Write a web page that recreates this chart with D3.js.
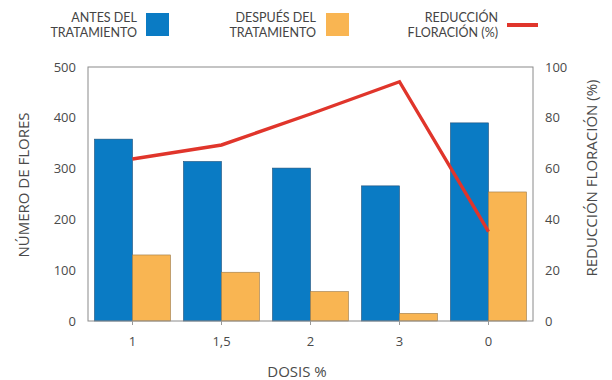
<!DOCTYPE html>
<html>
<head>
<meta charset="utf-8">
<script src="https://cdn.jsdelivr.net/npm/d3@7"></script>
<style>
  body { margin: 0; background: #fff; }
  svg text { font-family: 'Open Sans', 'DejaVu Sans', sans-serif; }
  svg text.leg { font-family: Lato, 'Open Sans', sans-serif; }
</style>
</head>
<body>
<div id="chart"></div>
<script>
// data
const dosis = ['1', '1,5', '2', '3', '0']
const antes = [358, 314, 301, 266, 390]
const despues = [130, 96, 58, 15, 254]
const reduccion = [63.8, 69.3, 81.5, 94.2, 35.2]
const leftTicks = [0, 100, 200, 300, 400, 500]
const rightTicks = [0, 20, 40, 60, 80, 100]

const blue = '#0a7bc4'
const orange = '#f9b552'
const red = '#e0352b'
const textCol = '#4a4a4a'

let svgWidth = 612,
  svgHeight = 380
let plot = { left: 88, right: 533, top: 67, bottom: 321 }

let svg = d3
  .select('#chart')
  .append('svg')
  .attr('width', svgWidth)
  .attr('height', svgHeight)

let x = d3
  .scaleBand()
  .domain(dosis)
  .range([plot.left, plot.right])
  .paddingInner(0.146)
  .paddingOuter(0.073)

let y = d3.scaleLinear().domain([0, 500]).range([plot.bottom, plot.top])
let y2 = d3.scaleLinear().domain([0, 100]).range([plot.bottom, plot.top])
let half = x.bandwidth() / 2

// bars before
svg
  .append('g')
  .selectAll('rect')
  .data(antes)
  .enter()
  .append('rect')
  .attr('x', (d, i) => x(dosis[i]))
  .attr('y', (d) => y(d))
  .attr('width', half)
  .attr('height', (d) => y(0) - y(d))
  .attr('fill', blue)
  .attr('stroke', '#1d4f78')
  .attr('stroke-width', 0.6)

// bars after
svg
  .append('g')
  .selectAll('rect')
  .data(despues)
  .enter()
  .append('rect')
  .attr('x', (d, i) => x(dosis[i]) + half)
  .attr('y', (d) => y(d))
  .attr('width', half)
  .attr('height', (d) => y(0) - y(d))
  .attr('fill', orange)
  .attr('stroke', '#9a7a4a')
  .attr('stroke-width', 0.6)

// frame
svg
  .append('rect')
  .attr('x', plot.left)
  .attr('y', plot.top)
  .attr('width', plot.right - plot.left)
  .attr('height', plot.bottom - plot.top)
  .attr('fill', 'none')
  .attr('stroke', '#8a8a8a')
  .attr('stroke-width', 1)

// line
svg
  .append('path')
  .datum(reduccion)
  .attr(
    'd',
    d3
      .line()
      .x((d, i) => x(dosis[i]) + half)
      .y((d) => y2(d))
  )
  .attr('fill', 'none')
  .attr('stroke', red)
  .attr('stroke-width', 3.4)
  .attr('stroke-linejoin', 'miter')

// x axis
let xAxis = d3
  .axisBottom(x)
  .tickSize(4)
  .tickPadding(12)
svg
  .append('g')
  .attr('transform', 'translate(0,' + plot.bottom + ')')
  .call(xAxis)
  .call((g) => g.select('.domain').remove())
  .call((g) => g.selectAll('.tick line').attr('stroke', '#999'))
  .call((g) =>
    g.selectAll('.tick').attr('transform', (d) => 'translate(' + (x(d) + half) + ',0)')
  )
  .call((g) =>
    g.selectAll('text').attr('fill', textCol).style('font-size', '13px')
  )

// left axis
svg
  .append('g')
  .attr('transform', 'translate(' + plot.left + ',0)')
  .call(d3.axisLeft(y).tickValues(leftTicks).tickSize(0).tickPadding(12))
  .call((g) => g.select('.domain').remove())
  .call((g) =>
    g.selectAll('text').attr('fill', textCol).style('font-size', '13px')
  )

// right axis
svg
  .append('g')
  .attr('transform', 'translate(' + plot.right + ',0)')
  .call(d3.axisRight(y2).tickValues(rightTicks).tickSize(0).tickPadding(12))
  .call((g) => g.select('.domain').remove())
  .call((g) =>
    g.selectAll('text').attr('fill', textCol).style('font-size', '13px')
  )

// axis titles
svg
  .append('text')
  .attr('transform', 'translate(29,185) rotate(-90)')
  .attr('text-anchor', 'middle')
  .attr('fill', textCol)
  .style('font-size', '15px')
  .text('NÚMERO DE FLORES')

svg
  .append('text')
  .attr('transform', 'translate(597,178) rotate(-90)')
  .attr('text-anchor', 'middle')
  .attr('fill', textCol)
  .style('font-size', '15px')
  .text('REDUCCIÓN FLORACIÓN (%)')

svg
  .append('text')
  .attr('x', 297)
  .attr('y', 377)
  .attr('text-anchor', 'middle')
  .attr('fill', textCol)
  .style('font-size', '15px')
  .text('DOSIS %')

// legend
const legendItems = [
  { lines: ['ANTES DEL', 'TRATAMIENTO'], right: 137, sx: 146, type: 'rect', color: blue },
  { lines: ['DESPUÉS DEL', 'TRATAMIENTO'], right: 316, sx: 326, type: 'rect', color: orange },
  { lines: ['REDUCCIÓN', 'FLORACIÓN (%)'], right: 498, sx: 507, type: 'line', color: red },
]

let legend = svg.append('g')
legendItems.forEach((it) => {
  it.lines.forEach((l, k) => {
    legend
      .append('text')
      .attr('class', 'leg')
      .attr('x', it.right)
      .attr('y', 21.5 + k * 15)
      .attr('text-anchor', 'end')
      .attr('fill', '#444')
      .style('font-size', '12.5px')
      .text(l)
  })
  if (it.type == 'rect') {
    legend
      .append('rect')
      .attr('x', it.sx)
      .attr('y', 13)
      .attr('width', 23)
      .attr('height', 23)
      .attr('fill', it.color)
  } else {
    legend
      .append('line')
      .attr('x1', it.sx)
      .attr('x2', it.sx + 31)
      .attr('y1', 25)
      .attr('y2', 25)
      .attr('stroke', it.color)
      .attr('stroke-width', 4)
  }
})
</script>
</body>
</html>
